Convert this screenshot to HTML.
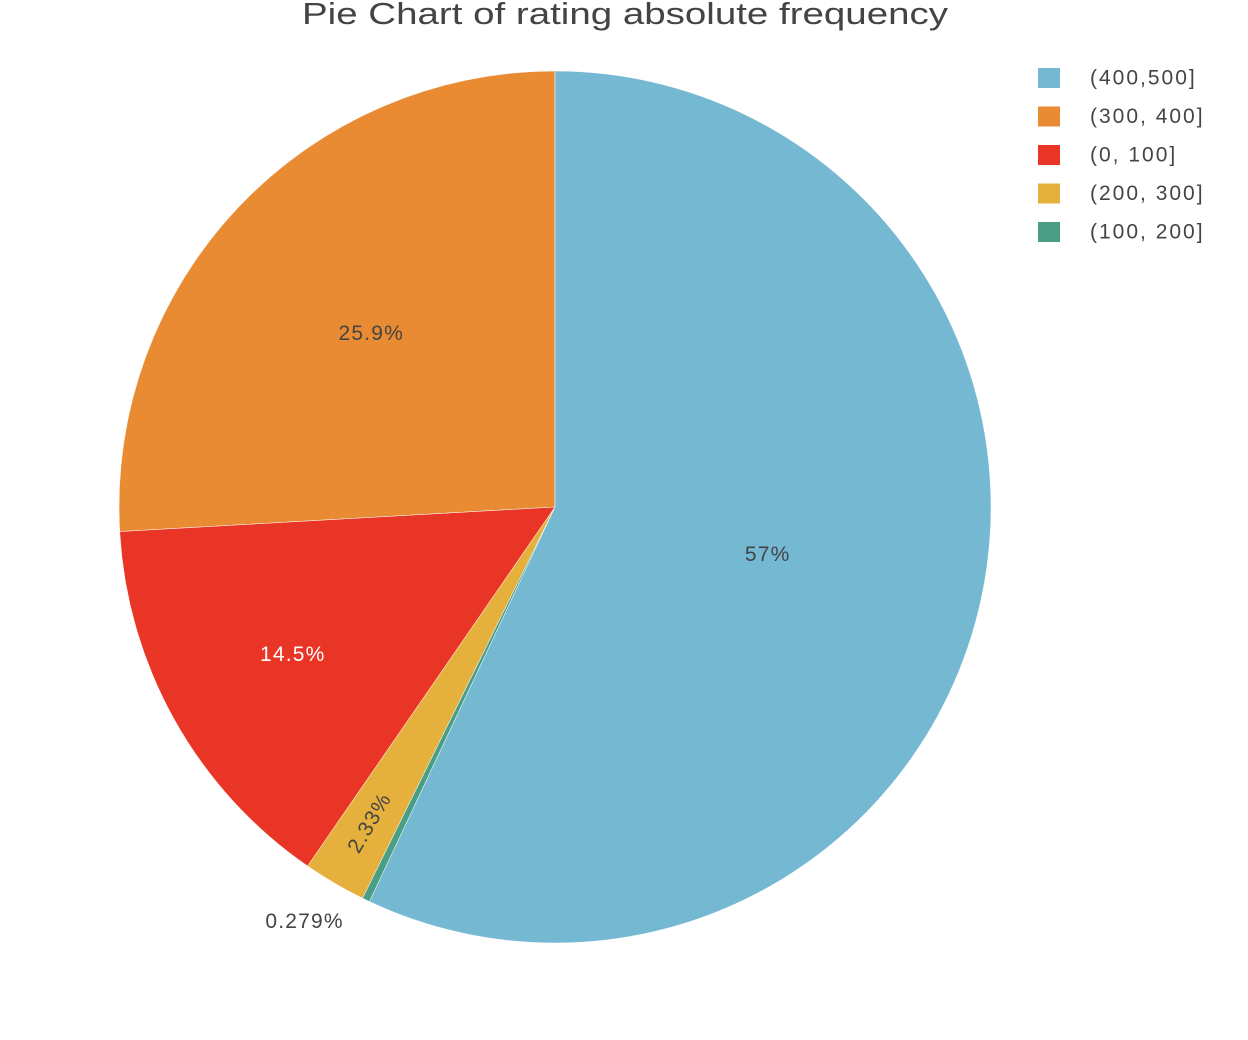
<!DOCTYPE html>
<html><head><meta charset="utf-8">
<style>
body{margin:0;background:#fff;font-family:"Liberation Sans","DejaVu Sans",sans-serif;}
svg{display:block}
</style></head>
<body>
<svg id="chart" width="1248" height="1040">
<text x="625" y="24" text-anchor="middle" font-size="31" fill="#444" textLength="646" lengthAdjust="spacingAndGlyphs">Pie Chart of rating absolute frequency</text>
<g id="slices"></g>
<g id="labels"></g>
<g id="legend"></g>
</svg>
<script>
const categories = ["(400,500]", "(300, 400]", "(0, 100]", "(200, 300]", "(100, 200]"];
const values = [57.0, 25.9, 14.5, 2.33, 0.279];
const colors = ["#74b8d2", "#e88b33", "#e93526", "#e6b03d", "#4a9e86"];
const labelTexts = ["57%", "25.9%", "14.5%", "2.33%", "0.279%"];

const NS = "http://www.w3.org/2000/svg";
const cx = 555, cy = 507, R = 436;
const labelRadius = [0.5, 0.58, 0.69, 0.84, 1.05];
const total = values.reduce((a,b)=>a+b,0);
const order = [1,2,3,4,0];
function pt(a, r){ return [cx - r*Math.sin(a), cy - r*Math.cos(a)]; }
const slicesG = document.getElementById('slices');
const labelsG = document.getElementById('labels');
let start = 0;
order.forEach(i=>{
  const sweep = values[i]/total*2*Math.PI;
  const end = start + sweep;
  const p1 = pt(start,R), p2 = pt(end,R);
  const large = sweep > Math.PI ? 1 : 0;
  const path = document.createElementNS(NS,'path');
  path.setAttribute('d',`M${cx},${cy} L${p1[0]},${p1[1]} A${R},${R} 0 ${large} 0 ${p2[0]},${p2[1]} Z`);
  path.setAttribute('fill',colors[i]);
  path.setAttribute('stroke','#fff');
  path.setAttribute('stroke-width','0.5');
  
  
  slicesG.appendChild(path);
  const mid = (start+end)/2;
  const t = document.createElementNS(NS,'text');
  t.setAttribute('font-size','21');
  t.setAttribute('letter-spacing','1.2');
  t.setAttribute('text-anchor','middle');
  t.setAttribute('dominant-baseline','central');
  t.textContent = labelTexts[i];
  const frac = values[i]/total;
  const p = pt(mid, R*labelRadius[i]);
  if (frac < 0.01) {
    t.setAttribute('x', p[0]-52); t.setAttribute('y', p[1]+2);
    t.setAttribute('fill','#444');
  } else if (frac < 0.05) {
    t.setAttribute('x', p[0]); t.setAttribute('y', p[1]);
    const deg = -(mid*180/Math.PI) + 90;
    t.setAttribute('transform',`rotate(${deg} ${p[0]} ${p[1]})`);
    t.setAttribute('fill','#444');
  } else {
    t.setAttribute('x', p[0]); t.setAttribute('y', p[1]);
    t.setAttribute('fill', i===2 ? '#fff' : '#444');
  }
  
  
  labelsG.appendChild(t);
  start = end;
});
const legendG = document.getElementById('legend');
categories.forEach((c,i)=>{
  const y = 78 + i*38.5;
  const r = document.createElementNS(NS,'rect');
  r.setAttribute('x',1038); r.setAttribute('y',y-10);
  r.setAttribute('width',22); r.setAttribute('height',20);
  r.setAttribute('fill',colors[i]);
  
  
  legendG.appendChild(r);
  const t = document.createElementNS(NS,'text');
  t.setAttribute('x',1090); t.setAttribute('y',y);
  t.setAttribute('dominant-baseline','central');
  t.setAttribute('font-size','21'); t.setAttribute('fill','#444');
  t.setAttribute('letter-spacing','2');
  t.textContent = c;
  
  
  legendG.appendChild(t);
});
</script>
</body></html>
